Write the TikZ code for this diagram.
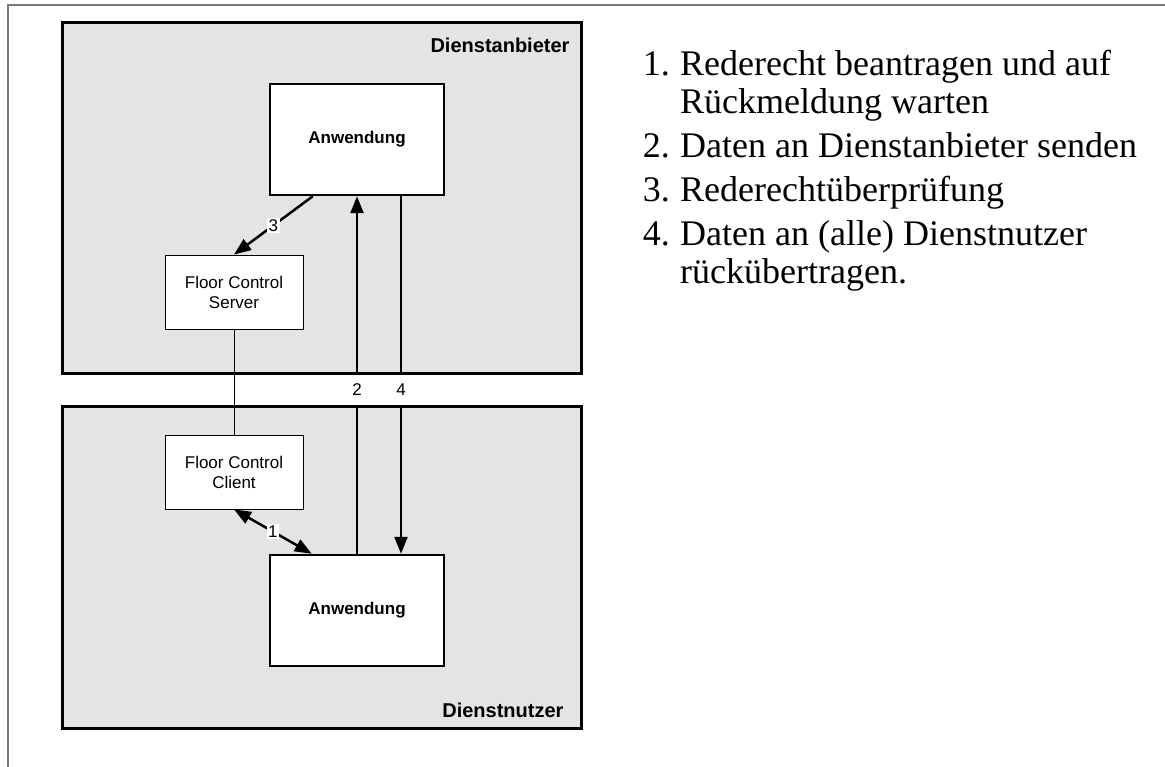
\documentclass[tikz,border=0pt]{standalone}
\usepackage{fontspec}
\setmainfont{Liberation Serif}
\setsansfont{Liberation Sans}
\usepackage{xcolor}
\usepackage{tikz}
\usetikzlibrary{arrows.meta}

\definecolor{areagray}{RGB}{228,228,228}
\definecolor{framegray}{RGB}{120,120,120}

\tikzset{
  area/.style={draw=black, line width=3pt, fill=areagray, inner sep=0pt},
  appbox/.style={draw=black, line width=2.5pt, fill=white, inner sep=0pt,
    minimum width=174pt, minimum height=111pt,
    font=\sffamily\bfseries\fontsize{17}{20}\selectfont},
  fcbox/.style={draw=black, line width=0.8pt, fill=white, inner sep=0pt,
    minimum width=138pt, minimum height=74pt, align=center,
    font=\sffamily\fontsize{17}{20}\selectfont},
  flow/.style={line width=2.5pt, -{Triangle[length=17pt,width=13pt]}},
  numlabel/.style={fill=white, inner sep=1.5pt,
    font=\sffamily\fontsize{17}{20}\selectfont},
  gaplabel/.style={inner sep=0pt, minimum height=29pt,
    font=\sffamily\fontsize{17}{20}\selectfont},
  arealabel/.style={font=\sffamily\bfseries\fontsize{20}{24}\selectfont},
  listtext/.style={inner sep=0pt, font=\fontsize{36}{40}\selectfont}
}

\begin{document}
\begin{tikzpicture}[x=1pt, y=-1pt]
      \useasboundingbox (0,0) rectangle (1165,767);
      \draw[color=framegray, line width=1.5pt] (8,767) -- (8,5) -- (1165,5);

      % the two areas
      \node[area, minimum width=519pt, minimum height=351pt] (anbieter) at (322,198) {};
      \node[area, minimum width=519pt, minimum height=322pt] (nutzer) at (322,567.5) {};
      \node[arealabel, anchor=east] (anbietertitle) at (573,45) {Dienstanbieter};
      \node[arealabel, anchor=east] (nutzertitle) at (567,710) {Dienstnutzer};

      % boxes
      \node[appbox] (apptop) at (357,139.5) {Anwendung};
      \node[appbox] (appbot) at (357,610.5) {Anwendung};
      \node[fcbox] (server) at (234,292) {Floor Control\\Server};
      \node[fcbox] (client) at (234,472) {Floor Control\\Client};
      \draw[line width=0.8pt] (server.south) -- (client.north);

      % 2 and 4 cross the gap between the areas
      \node[gaplabel] (gap2) at (357,390) {2};
      \node[gaplabel] (gap4) at (401,390) {4};
      \draw[line width=2.5pt] (appbot.north) -- (gap2.south);
      \draw[flow] (gap2.north) -- (apptop.south);
      \draw[line width=2.5pt] (apptop.south -| gap4) -- (gap4.north);
      \draw[flow] (gap4.south) -- (appbot.north -| gap4);

      % 3 and 1
      \draw[flow] ([xshift=44pt]apptop.south west) -- node[numlabel] {3} (server.north);
      \draw[flow, {Triangle[length=17pt,width=13pt]}-{Triangle[length=17pt,width=13pt]}]
      (client.south) -- node[numlabel] {1} ([xshift=43pt]appbot.north west);

      % the list
      \node[listtext, anchor=base west] (item1a) at (680,76) {Rederecht beantragen und auf};
      \node[listtext, anchor=base west] (item1b) at (680,114) {Rückmeldung warten};
      \node[listtext, anchor=base west] (item2) at (680,158) {Daten an Dienstanbieter senden};
      \node[listtext, anchor=base west] (item3) at (680,202) {Rederechtüberprüfung};
      \node[listtext, anchor=base west] (item4a) at (680,246) {Daten an (alle) Dienstnutzer};
      \node[listtext, anchor=base west] (item4b) at (680,284) {rückübertragen.};
      \node[listtext, anchor=base east] (num1) at ([xshift=-10pt]item1a.base west) {1.};
      \node[listtext, anchor=base east] (num2) at ([xshift=-10pt]item2.base west) {2.};
      \node[listtext, anchor=base east] (num3) at ([xshift=-10pt]item3.base west) {3.};
      \node[listtext, anchor=base east] (num4) at ([xshift=-10pt]item4a.base west) {4.};
    \end{tikzpicture}
\end{document}
